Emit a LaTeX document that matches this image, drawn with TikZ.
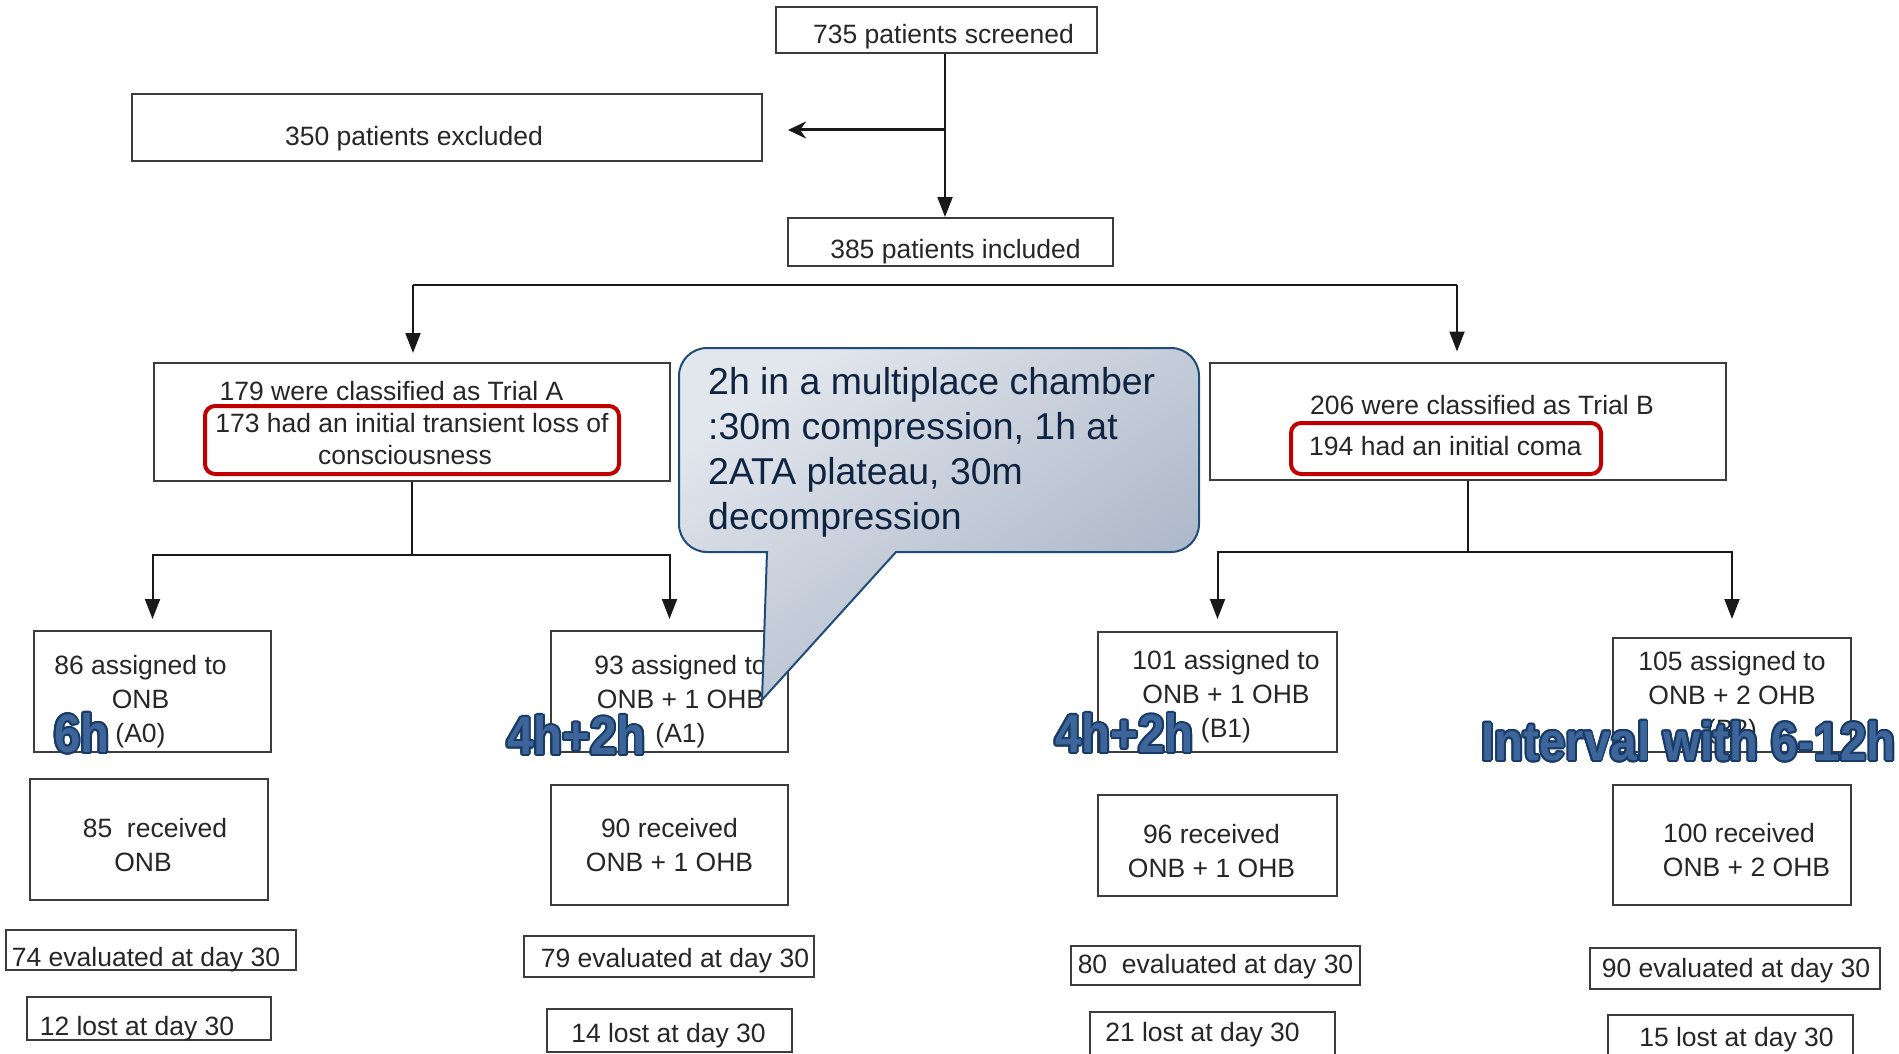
\documentclass[tikz,border=0pt]{standalone}
\usepackage{fontspec}
\setmainfont{Liberation Sans}
\newfontfamily\artfont[FakeStretch=0.88]{Liberation Sans}
\usepackage[copies]{contour}
\contourlength{1.8pt}
\usetikzlibrary{arrows.meta}
\definecolor{boxline}{HTML}{3C3C3C}
\definecolor{boxtext}{HTML}{262626}
\definecolor{flagred}{HTML}{C00000}
\definecolor{bubbleline}{HTML}{1F4C78}
\definecolor{bubbletop}{HTML}{E2E6ED}
\definecolor{bubblebot}{HTML}{A6B2C4}
\definecolor{bubbletext}{HTML}{0E2440}
\definecolor{artfill}{HTML}{3D6599}
\definecolor{artline}{HTML}{173A66}

\begin{document}
\begin{tikzpicture}[x=1pt,y=-1pt,
	box/.style={draw=boxline,line width=2pt,fill=white,inner sep=0pt},
	txt/.style={text=boxtext,align=center,inner sep=0pt,font=\fontsize{26.5}{34}\selectfont},
	flag/.style={draw=flagred,line width=4pt,rounded corners=10pt,inner sep=0pt},
	link/.style={draw=black!90,line width=2pt},
	arr/.style={link,-{Triangle[width=15pt,length=20pt]}},
	art/.style={anchor=west,inner sep=0pt,text=artfill,font=\artfont\bfseries\fontsize{54}{54}\selectfont}]
	\useasboundingbox (0,0) rectangle (1899,1054);

	% draw top boxes
	\node[box,minimum width=321,minimum height=46] (screened) at (936.5,30) {};
	\node[txt] (screenedtxt) at (943.5,37) {735 patients screened};
	\node[box,minimum width=630,minimum height=67] (excluded) at (447,127.5) {};
	\node[txt] (excludedtxt) at (414,138.5) {350 patients excluded};
	\node[box,minimum width=325,minimum height=48] (included) at (950.5,242) {};
	\node[txt] (includedtxt) at (955.5,252) {385 patients included};

	% draw trials
	\node[box,minimum width=516,minimum height=118] (trialA) at (412,422) {};
	\node[txt,font=\fontsize{26.5}{32}\selectfont] (trialAtxt) at (412,423.5) {179 were classified as Trial A\hspace*{41pt}\\173 had an initial transient loss of\\consciousness\hspace*{14pt}};
	\node[box,minimum width=516,minimum height=117] (trialB) at (1468,421) {};
	\node[txt,font=\fontsize{26.5}{41}\selectfont] (trialBtxt) at (1468,426) {\hspace*{28pt}206 were classified as Trial B\\194 had an initial coma\hspace*{45pt}};
	\node[flag,minimum width=414,minimum height=68] (lossA) at (412,440) {};
	\node[flag,minimum width=310,minimum height=51] (comaB) at (1446,448.5) {};

	% draw groups
	\node[box,minimum width=237,minimum height=121] (asgA0) at (152.5,691.5) {};
	\node[txt] (asgA0txt) at (140.5,701.5) {86 assigned to\\ONB\\(A0)};
	\node[box,minimum width=237,minimum height=121] (asgA1) at (669.5,691.5) {};
	\node[txt] (asgA1txt) at (680.5,701.5) {93 assigned to\\ONB + 1 OHB\\(A1)};
	\node[box,minimum width=239,minimum height=120] (asgB1) at (1217.5,692) {};
	\node[txt] (asgB1txt) at (1226,697) {101 assigned to\\ONB + 1 OHB\\(B1)};
	\node[box,minimum width=238,minimum height=114] (asgB2) at (1732,695) {};
	\node[txt] (asgB2txt) at (1732,697.5) {105 assigned to\\ONB + 2 OHB\\(B2)};

	\node[box,minimum width=238,minimum height=121] (rcvA0) at (149,839.5) {};
	\node[txt] (rcvA0txt) at (149,845.5) {\hspace*{12pt}85\ \ received\\ONB\hspace*{12pt}};
	\node[box,minimum width=237,minimum height=120] (rcvA1) at (669.5,845) {};
	\node[txt] (rcvA1txt) at (669.5,845) {90 received\\ONB + 1 OHB};
	\node[box,minimum width=239,minimum height=101] (rcvB1) at (1217.5,845.5) {};
	\node[txt] (rcvB1txt) at (1211.5,851.5) {96 received\\ONB + 1 OHB};
	\node[box,minimum width=238,minimum height=120] (rcvB2) at (1732,845) {};
	\node[txt] (rcvB2txt) at (1739,850) {100 received\\\hspace*{15pt}ONB + 2 OHB};

	\node[box,minimum width=290,minimum height=40] (evlA0) at (151,950) {};
	\node[txt] (evlA0txt) at (146,960) {74 evaluated at day 30};
	\node[box,minimum width=290,minimum height=41] (evlA1) at (669,956.5) {};
	\node[txt] (evlA1txt) at (675,960.5) {79 evaluated at day 30};
	\node[box,minimum width=289,minimum height=39] (evlB1) at (1215.5,965.5) {};
	\node[txt] (evlB1txt) at (1215.5,966.5) {80\ \ evaluated at day 30};
	\node[box,minimum width=290,minimum height=41] (evlB2) at (1735,968.5) {};
	\node[txt] (evlB2txt) at (1736,971) {90 evaluated at day 30};

	\node[box,minimum width=244,minimum height=43] (lstA0) at (149,1018.5) {};
	\node[txt] (lstA0txt) at (137,1028.5) {12 lost at day 30};
	\node[box,minimum width=245,minimum height=43] (lstA1) at (669.5,1030.5) {};
	\node[txt] (lstA1txt) at (668.5,1035.5) {14 lost at day 30};
	\node[box,minimum width=245,minimum height=44] (lstB1) at (1212.5,1034) {};
	\node[txt] (lstB1txt) at (1202.5,1035) {21 lost at day 30};
	\node[box,minimum width=245,minimum height=44] (lstB2) at (1730.5,1037) {};
	\node[txt] (lstB2txt) at (1736.5,1039.5) {15 lost at day 30};

	% draw arrows
	\coordinate (trunk) at (945,130);
	\draw[arr] (screened.south -| trunk) -- (included.north -| trunk);
	\draw[arr,line width=3pt,-{Stealth[width=17pt,length=18pt]},shorten >=25pt] (trunk) -- (trunk -| excluded.east);

	\coordinate (splitA) at (413,285);
	\coordinate (splitB) at (1457,285);
	\draw[link] (splitA) -- (splitB);
	\draw[arr,shorten >=9pt] (splitA) -- (splitA |- trialA.north);
	\draw[arr,shorten >=10pt] (splitB) -- (splitB |- trialB.north);

	\coordinate (forkA) at (412,555);
	\draw[link] (trialA.south) -- (forkA);
	\draw[arr,shorten >=11pt] (forkA) -| (asgA0.north);
	\draw[arr,shorten >=11pt] (forkA) -| (asgA1.north);
	\coordinate (forkB) at (1468,552);
	\draw[link] (trialB.south) -- (forkB);
	\draw[arr,shorten >=12pt] (forkB) -| (asgB1.north);
	\draw[arr,shorten >=18pt] (forkB) -| (asgB2.north);

	% draw callout
	\draw[draw=bubbleline,line width=2pt,top color=bubbletop,bottom color=bubblebot,shading angle=35]
		(896,552) -- (1171,552) arc[start angle=90,end angle=0,radius=28]
		-- (1199,376) arc[start angle=0,end angle=-90,radius=28]
		-- (707,348) arc[start angle=-90,end angle=-180,radius=28]
		-- (679,524) arc[start angle=180,end angle=90,radius=28]
		-- (767,552) -- (762,700) -- cycle;
	\node[anchor=north west,inner sep=0pt,align=left,text=bubbletext,font=\fontsize{37.4}{45}\selectfont] (bubbletxt) at (708,367) {2h in a multiplace chamber\\:30m compression, 1h at\\2ATA plateau, 30m\\decompression};

	% draw timing labels
	\node[art] (artA0) at (54,734) {\contour{artline}{6h}};
	\node[art] (artA1) at (507,736) {\contour{artline}{4h+2h}};
	\node[art] (artB1) at (1055,734) {\contour{artline}{4h+2h}};
	\node[art] (artB2) at (1481,742) {\contour{artline}{Interval with 6-12h}};
\end{tikzpicture}
\end{document}
